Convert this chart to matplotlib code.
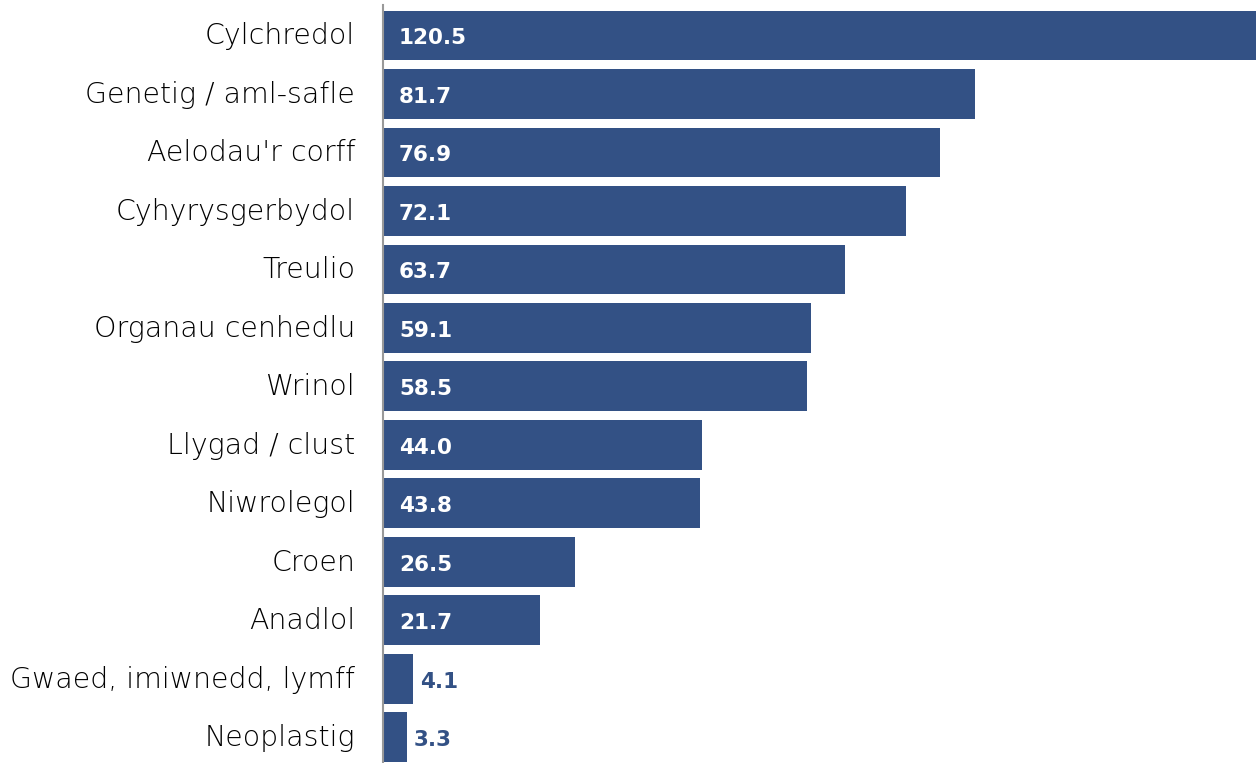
import matplotlib.pyplot as plt
from matplotlib.transforms import ScaledTranslation

categories = ["Cylchredol", "Genetig / aml-safle", "Aelodau'r corff", "Cyhyrysgerbydol",
              "Treulio", "Organau cenhedlu", "Wrinol", "Llygad / clust", "Niwrolegol",
              "Croen", "Anadlol", "Gwaed, imiwnedd, lymff", "Neoplastig"]
values = [120.5, 81.7, 76.9, 72.1, 63.7, 59.1, 58.5, 44.0, 43.8, 26.5, 21.7, 4.1, 3.3]

bar_color = '#335185'

fig = plt.figure(figsize=(12.57, 7.63), dpi=100)
ax = fig.add_axes([383 / 1257, 0, 874 / 1257, 758 / 763])

pos = list(range(len(categories)))
ax.barh(pos, values, height=0.85, color=bar_color)
ax.set_ylim(12.44, -0.52)
ax.set_xlim(0, 120.6)

ax.set_yticks(pos)
ax.set_yticklabels(categories, fontsize=20.4, family='DejaVu Sans', fontweight='light', color='#000000')
ax.tick_params(axis='y', length=0, pad=20)
# nudge category labels up a touch
shift = ScaledTranslation(0, 2 / 100, fig.dpi_scale_trans)
for lbl in ax.get_yticklabels():
    lbl.set_transform(lbl.get_transform() + shift)
ax.set_xticks([])
for s in ['top', 'right', 'bottom']:
    ax.spines[s].set_visible(False)
ax.spines['left'].set_color('#999999')
ax.spines['left'].set_linewidth(1.5)

# value labels: inside the bar in white, outside in bar colour for short bars
for p, v in zip(pos, values):
    if v > 10:
        ax.annotate(f"{v:.1f}", (0, p), xytext=(16, -3), textcoords='offset pixels',
                    va='center', ha='left', color='white', fontsize=15.5, fontweight='bold')
    else:
        ax.annotate(f"{v:.1f}", (v, p), xytext=(7, -3), textcoords='offset pixels',
                    va='center', ha='left', color=bar_color, fontsize=15.5, fontweight='bold')

fig.savefig('out.png', dpi=100)
